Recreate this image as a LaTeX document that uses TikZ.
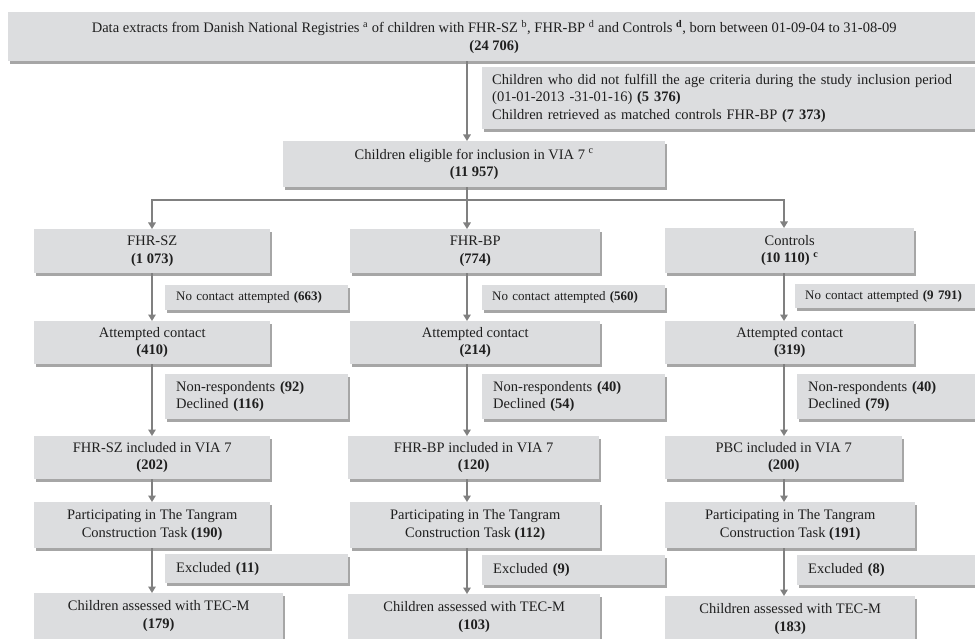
\documentclass[tikz,border=0pt]{standalone}
\usepackage{fontspec}
\setmainfont{Liberation Serif}
\usetikzlibrary{arrows.meta,shadows}
\definecolor{boxfill}{RGB}{220,221,223}
\definecolor{linegray}{RGB}{128,128,128}
\begin{document}
\begin{tikzpicture}[x=1pt,y=-1pt,
  base/.style={fill=boxfill, draw=none, font=\fontsize{14.5}{17.5}\selectfont, text=black!88,
    drop shadow={shadow xshift=2pt, shadow yshift=-2.5pt, fill=black, opacity=0.35},
    anchor=north west, inner sep=0pt},
  cbox/.style={base, align=center},
  sbox/.style={base, align=left, inner xsep=11pt},
  nbox/.style={sbox, font=\fontsize{13}{16}\selectfont},
  arr/.style={draw=linegray, line width=1.6pt, -{Triangle[length=6.5pt,width=7.5pt]}},
  ln/.style={draw=linegray, line width=1.6pt}]
\useasboundingbox (0,0) rectangle (975,639);
\clip (0,0) rectangle (975,639);

% top part
\node[cbox, minimum width=972pt, minimum height=49pt] (top) at (8,12)
  {Data extracts from Danish National Registries \textsuperscript{a} of children with FHR-SZ \textsuperscript{b}, FHR-BP \textsuperscript{d} and Controls \textsuperscript{\textbf{d}}, born between 01-09-04 to 31-08-09\\\textbf{(24 706)}};
\node[sbox, text width=478pt, inner xsep=10pt, minimum height=62pt] (excl0) at (482,67)
  {\mbox{Children who did not fulfill the age criteria during the study inclusion period}\\(01-01-2013 -31-01-16) \textbf{(5 376)}\\Children retrieved as matched controls FHR-BP \textbf{(7 373)}};
\node[cbox, minimum width=382pt, minimum height=46pt] (elig) at (283,141)
  {Children eligible for inclusion in VIA 7 \textsuperscript{c}\\\textbf{(11 957)}};

% left column
\node[cbox, minimum width=236pt, minimum height=44pt] (sz) at (34,229) {FHR-SZ\\\textbf{(1 073)}};
\node[nbox, text width=161pt, minimum height=25pt] (nc1) at (165,285) {\mbox{No contact attempted \textbf{(663)}}};
\node[cbox, minimum width=236pt, minimum height=43pt] (at1) at (34,321) {Attempted contact\\\textbf{(410)}};
\node[sbox, text width=161pt, minimum height=45pt] (nr1) at (165,374) {Non-respondents \textbf{(92)}\\Declined \textbf{(116)}};
\node[cbox, minimum width=236pt, minimum height=43pt] (in1) at (34,436) {FHR-SZ included in VIA 7\\\textbf{(202)}};
\node[cbox, minimum width=236pt, minimum height=46pt] (pa1) at (34,502) {Participating in The Tangram\\Construction Task \textbf{(190)}};
\node[sbox, text width=161pt, minimum height=29pt] (ex1) at (165,554) {Excluded \textbf{(11)}};
\node[cbox, minimum width=249pt, minimum height=46pt] (as1) at (34,593) {Children assessed with TEC-M\\\textbf{(179)}};

% middle column
\node[cbox, minimum width=250pt, minimum height=44pt] (bp) at (350,229) {FHR-BP\\\textbf{(774)}};
\node[nbox, text width=163pt, inner xsep=10pt, minimum height=25pt] (nc2) at (482,285) {\mbox{No contact attempted \textbf{(560)}}};
\node[cbox, minimum width=250pt, minimum height=43pt] (at2) at (350,321) {Attempted contact\\\textbf{(214)}};
\node[sbox, text width=161pt, minimum height=45pt] (nr2) at (482,374) {Non-respondents \textbf{(40)}\\Declined \textbf{(54)}};
\node[cbox, minimum width=251pt, minimum height=43pt] (in2) at (348,436) {FHR-BP included in VIA 7\\\textbf{(120)}};
\node[cbox, minimum width=250pt, minimum height=46pt] (pa2) at (350,502) {Participating in The Tangram\\Construction Task \textbf{(112)}};
\node[sbox, text width=161pt, minimum height=30pt] (ex2) at (482,555) {Excluded \textbf{(9)}};
\node[cbox, minimum width=252pt, minimum height=46pt] (as2) at (348,594) {Children assessed with TEC-M\\\textbf{(103)}};

% right column
\node[cbox, minimum width=249pt, minimum height=45pt] (co) at (665,228) {Controls\\\textbf{(10 110)} \textsuperscript{\textbf{c}}};
\node[nbox, text width=165pt, inner xsep=10pt, minimum height=24pt] (nc3) at (795,284) {\mbox{No contact attempted \textbf{(9 791)}}};
\node[cbox, minimum width=249pt, minimum height=43pt] (at3) at (665,321) {Attempted contact\\\textbf{(319)}};
\node[sbox, text width=161pt, minimum height=45pt] (nr3) at (797,374) {Non-respondents \textbf{(40)}\\Declined \textbf{(79)}};
\node[cbox, minimum width=237pt, minimum height=43pt] (in3) at (665,436) {PBC included in VIA 7\\\textbf{(200)}};
\node[cbox, minimum width=250pt, minimum height=46pt] (pa3) at (665,502) {Participating in The Tangram\\Construction Task \textbf{(191)}};
\node[sbox, text width=161pt, minimum height=30pt] (ex3) at (797,555) {Excluded \textbf{(8)}};
\node[cbox, minimum width=250pt, minimum height=46pt] (as3) at (665,596) {Children assessed with TEC-M\\\textbf{(183)}};

% connectors
\coordinate (cl) at (152,200);
\coordinate (cm) at (467,200);
\coordinate (cr) at (784,200);
\draw[arr] (top.south -| cm) -- (elig.north -| cm);
\draw[arr] (elig.south -| cm) -- (bp.north -| cm);
\draw[arr] (cm) -| (sz.north -| cl);
\draw[arr] (cm) -| (co.north -| cr);

\foreach \c/\a/\b in {cl/sz/at1, cl/at1/in1, cl/in1/pa1, cl/pa1/as1,
                      cm/bp/at2, cm/at2/in2, cm/in2/pa2, cm/pa2/as2,
                      cr/co/at3, cr/at3/in3, cr/in3/pa3, cr/pa3/as3}
  \draw[arr] (\a.south -| \c) -- (\b.north -| \c);
\end{tikzpicture}
\end{document}
